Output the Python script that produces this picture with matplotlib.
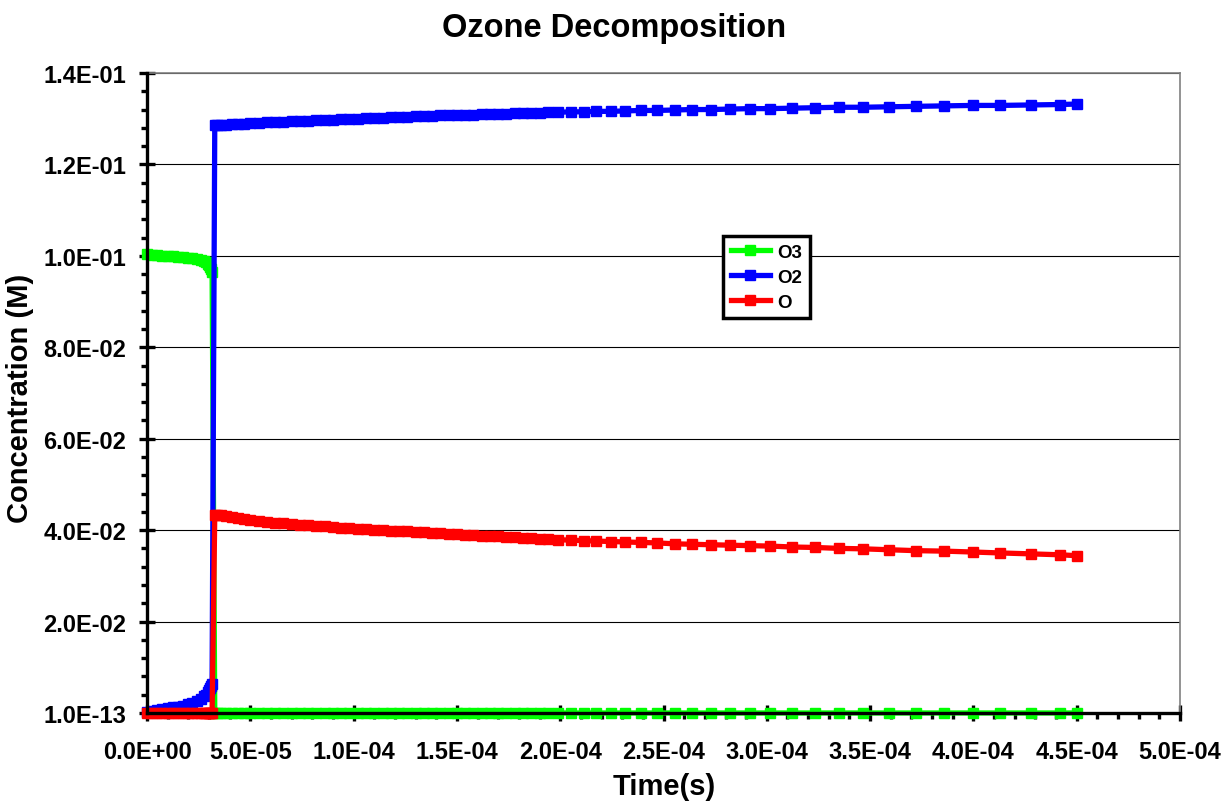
import matplotlib.pyplot as plt
from matplotlib.ticker import MultipleLocator, FuncFormatter
import numpy as np

plt.rcParams['font.family'] = ['Liberation Sans', 'DejaVu Sans']
plt.rcParams['font.weight'] = 'bold'

# solver output times, microseconds
time_us = [0, 2.5, 5, 7.5, 10, 12.5, 15, 17.5, 20, 22, 24, 26, 27.5, 28.5, 29.5, 30.2, 30.7, 31.1, 31.5,
           32.8, 34, 36, 38, 41, 44, 47, 50,
           54, 58, 62, 66, 70, 74, 78, 82, 86, 90, 94, 98, 102, 106, 110, 114, 118, 122,
           126, 130, 134, 138, 142, 146, 150, 154, 158, 162, 166, 170, 174, 178, 182, 186, 190, 194,
           198.9, 205.0, 211.3, 217.4, 224.6, 231.5, 239.1, 246.7, 255.4, 263.7, 272.8, 282.0,
           291.7, 301.7, 312.4, 323.5, 334.8, 346.7, 359.3, 372.4, 385.9, 400.0, 413.0, 427.8, 442.0, 450.0]

# concentrations (M)
o3 = [0.1003, 0.1002, 0.1001, 0.1000, 0.0999, 0.0999, 0.0998, 0.0997, 0.0996, 0.0995,
      0.0993, 0.0990, 0.0988, 0.0986, 0.0983, 0.0980, 0.0976, 0.0972, 0.0965,
      1e-13, 1e-13, 1e-13, 1e-13, 1e-13, 1e-13, 1e-13, 1e-13,
      1e-13, 1e-13, 1e-13, 1e-13, 1e-13, 1e-13, 1e-13, 1e-13, 1e-13, 1e-13, 1e-13, 1e-13,
      1e-13, 1e-13, 1e-13, 1e-13, 1e-13, 1e-13, 1e-13, 1e-13, 1e-13, 1e-13, 1e-13, 1e-13,
      1e-13, 1e-13, 1e-13, 1e-13, 1e-13, 1e-13, 1e-13, 1e-13, 1e-13, 1e-13, 1e-13, 1e-13,
      1e-13, 1e-13, 1e-13, 1e-13, 1e-13, 1e-13, 1e-13, 1e-13, 1e-13, 1e-13, 1e-13, 1e-13,
      1e-13, 1e-13, 1e-13, 1e-13, 1e-13, 1e-13, 1e-13, 1e-13, 1e-13, 1e-13, 1e-13, 1e-13,
      1e-13, 1e-13]

o2 = [0.0002, 0.0004, 0.0006, 0.0008, 0.0010, 0.0012, 0.0014, 0.0016, 0.0019, 0.0022,
      0.0026, 0.0031, 0.0036, 0.0040, 0.0045, 0.0050, 0.0054, 0.0058, 0.0063,
      0.1286, 0.1286, 0.1287, 0.1287, 0.1288, 0.1289, 0.1289, 0.1290,
      0.1291, 0.1292, 0.1293, 0.1293, 0.1294, 0.1295, 0.1296, 0.1297, 0.1297, 0.1298, 0.1299, 0.1300,
      0.1300, 0.1301, 0.1302, 0.1302, 0.1303, 0.1304, 0.1304, 0.1305, 0.1306, 0.1306, 0.1307, 0.1307,
      0.1308, 0.1309, 0.1309, 0.1310, 0.1310, 0.1311, 0.1311, 0.1312, 0.1312, 0.1313, 0.1313, 0.1314,
      0.1314, 0.1315, 0.1315, 0.1316, 0.1316, 0.1317, 0.1318, 0.1318, 0.1319, 0.1320, 0.1320, 0.1321,
      0.1322, 0.1322, 0.1323, 0.1324, 0.1325, 0.1325, 0.1326, 0.1327, 0.1328, 0.1329, 0.1329, 0.1330,
      0.1331, 0.1332]

o = [1e-13, 1e-13, 1e-13, 1e-13, 1e-13, 1e-13, 1e-13, 1e-13, 1e-13, 1e-13,
     1e-13, 1e-13, 1e-13, 1e-13, 1e-13, 1e-13, 1e-13, 1e-13, 1e-13,
     0.0434, 0.0433, 0.0432, 0.0430, 0.0428, 0.0426, 0.0424, 0.0422,
     0.0420, 0.0418, 0.0416, 0.0415, 0.0413, 0.0412, 0.0411, 0.0409, 0.0408, 0.0407, 0.0405, 0.0404,
     0.0403, 0.0402, 0.0401, 0.0400, 0.0399, 0.0398, 0.0397, 0.0396, 0.0395, 0.0394, 0.0393, 0.0392,
     0.0391, 0.0390, 0.0389, 0.0388, 0.0387, 0.0386, 0.0385, 0.0384, 0.0383, 0.0382, 0.0381, 0.0380,
     0.0379, 0.0378, 0.0377, 0.0376, 0.0375, 0.0374, 0.0373, 0.0372, 0.0370, 0.0369, 0.0368, 0.0367,
     0.0366, 0.0365, 0.0363, 0.0362, 0.0360, 0.0359, 0.0357, 0.0355, 0.0354, 0.0352, 0.0350, 0.0348,
     0.0346, 0.0344]

species = ['O3', 'O2', 'O']
colors = ['#00ff00', '#0000ff', '#ff0000']

t = np.array(time_us) * 1e-6

fig = plt.figure(figsize=(12.25, 8.04), dpi=100)
ax = fig.add_axes([0.12, 0.112, 0.8433, 0.796])

for y, name, c in zip([o3, o2, o], species, colors):
    ax.plot(t, y, color=c, lw=3.8, marker='s', ms=7.8, mec=c, mfc=c,
            label=name, clip_on=False, zorder=3)

ax.set_xlim(0, 5e-4)
ax.set_ylim(1e-13, 0.14)
ax.set_xticks(np.arange(0, 5.01e-4, 5e-5))
ax.set_yticks([1e-13, 0.02, 0.04, 0.06, 0.08, 0.10, 0.12, 0.14])
ax.xaxis.set_minor_locator(MultipleLocator(1e-5))
ax.yaxis.set_minor_locator(MultipleLocator(0.004))
sci = FuncFormatter(lambda v, p: f"{v:.1E}")
ax.xaxis.set_major_formatter(sci)
ax.yaxis.set_major_formatter(sci)

ax.yaxis.grid(True, color='black', lw=0.8)
ax.set_axisbelow(True)

for s in ['left', 'bottom']:
    ax.spines[s].set_color('black')
    ax.spines[s].set_linewidth(2.4)
    ax.spines[s].set_zorder(4)
for s in ['top', 'right']:
    ax.spines[s].set_color('#808080')
    ax.spines[s].set_linewidth(1.2)

ax.tick_params(which='major', direction='inout', length=11, width=2.4, labelsize=17)
ax.tick_params(which='minor', direction='out', length=4, width=2.4)
ax.tick_params(axis='x', which='major', pad=14)
ax.tick_params(axis='y', which='major', pad=9.5)

fig.text(0.5012, 0.965, 'Ozone Decomposition', ha='center', va='center',
         fontsize=23.5, fontweight='bold')
fig.text(0.542, 0.021, 'Time(s)', ha='center', va='center', fontsize=21, fontweight='bold')
fig.text(0.0167, 0.505, 'Concentration (M)', ha='center', va='center', rotation=90,
         fontsize=21, fontweight='bold')

leg = ax.legend(loc='upper left', bbox_to_anchor=(0.5576, 0.745), borderaxespad=0,
                fontsize=13.5, handlelength=2.1, handletextpad=0.4, borderpad=0.4,
                labelspacing=0.42, fancybox=False, framealpha=1, edgecolor='black')
leg.get_frame().set_linewidth(2.5)
for h in leg.get_lines():
    h.set_linewidth(3.8)
    h.set_markersize(7.8)

fig.savefig('out.png', dpi=100)
